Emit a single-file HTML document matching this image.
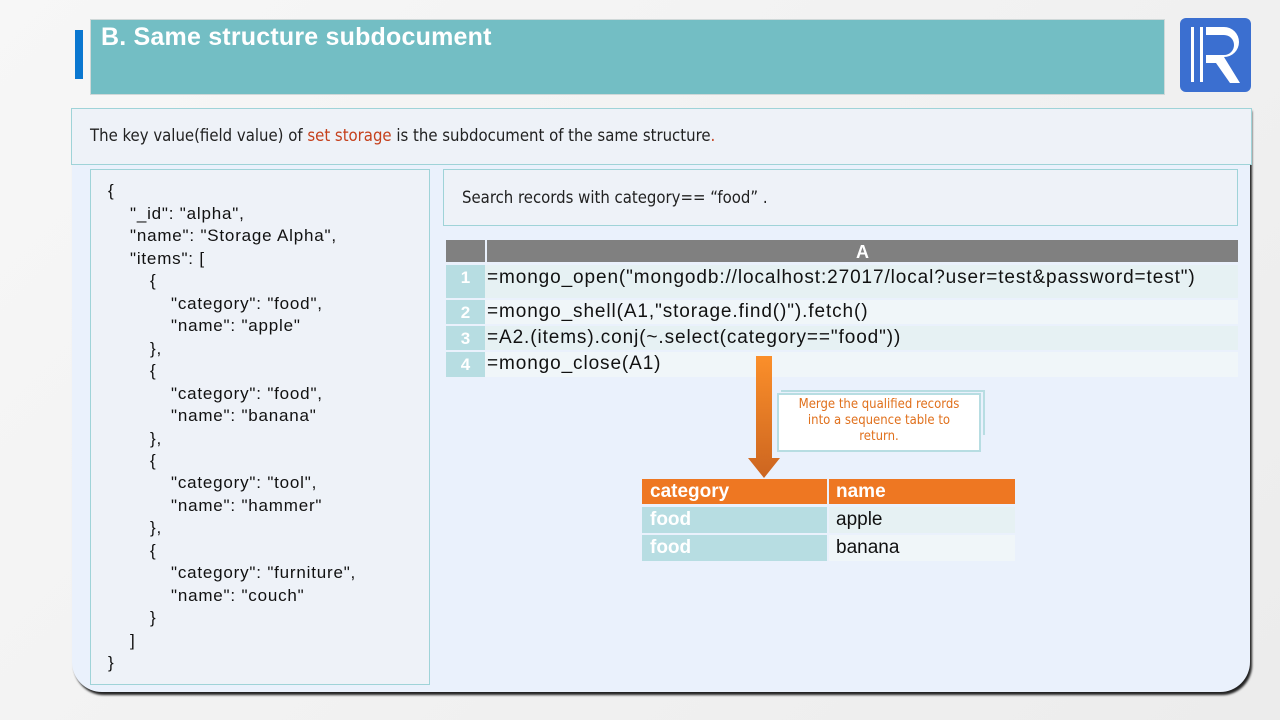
<!DOCTYPE html>
<html><head><meta charset="utf-8"><style>
body{margin:0;width:1280px;height:720px;background:linear-gradient(135deg,#f7f7f7,#ececec);position:relative;overflow:hidden;font-family:"Liberation Sans",Arial,sans-serif}
.a{position:absolute}
.code div{position:absolute;font-size:17px;letter-spacing:0.8px;color:#111;white-space:pre}
.tr{position:absolute;left:446px;width:792px;}
.idx{position:absolute;left:0;width:39px;top:0;bottom:0;background:#b7dde2;color:#fff;font-weight:bold;font-size:17px;text-align:center}
.cell{position:absolute;left:41px;font-size:19px;letter-spacing:0.9px;color:#111;white-space:nowrap}
</style></head><body>
<div class="a" style="left:75px;top:30px;width:8px;height:49px;background:#0a77d0"></div>
<div class="a" style="left:90px;top:19px;width:1073px;height:74px;background:#73bec4;border:1px solid #cfd8d8"></div>
<div class="a" style="left:101px;top:23px;font-size:25px;font-weight:bold;color:#fff;letter-spacing:0.2px">B. Same structure subdocument</div>
<div class="a" style="left:1180px;top:18px;width:71px;height:74px;background:#3b6fd0;border-radius:6px"></div>
<div class="a" style="left:1191px;top:27px;width:3px;height:55px;background:#fff"></div>
<div class="a" style="left:1200px;top:27px;width:3px;height:55px;background:#fff"></div>
<svg class="a" style="left:1206px;top:27px" width="40" height="56"><path d="M0 0H18A15 15 0 0 1 18 30L34 56H24L10 36H0V28H18A7 7 0 0 0 18 8H0Z" fill="#fff"/></svg>

<div class="a" style="left:72px;top:108px;width:1178px;height:584px;background:#eaf1fc;border-radius:0 0 30px 30px;box-shadow:2px 3px 2px #222"></div>
<div class="a" style="left:71px;top:108px;width:1179px;height:55px;background:#eef2f8;border:1px solid #9fd3d8"></div>
<div class="a" style="left:90px;top:126px;font-size:16.6px;color:#222;font-family:'DejaVu Sans Condensed','Liberation Sans',sans-serif">The key value(field value) of <span style="color:#c5401c">set storage</span> is the subdocument of the same structure<span style="color:#c5401c">.</span></div>

<div class="a" style="left:90px;top:169px;width:338px;height:514px;background:#eef2f8;border:1px solid #9fd3d8"></div>
<div class="code">
<div style="left:108px;top:181px">{</div>
<div style="left:130px;top:204px">"_id": "alpha",</div>
<div style="left:130px;top:226px">"name": "Storage Alpha",</div>
<div style="left:130px;top:249px">"items": [</div>
<div style="left:150px;top:271px">{</div>
<div style="left:171px;top:294px">"category": "food",</div>
<div style="left:171px;top:316px">"name": "apple"</div>
<div style="left:150px;top:339px">},</div>
<div style="left:150px;top:361px">{</div>
<div style="left:171px;top:384px">"category": "food",</div>
<div style="left:171px;top:406px">"name": "banana"</div>
<div style="left:150px;top:429px">},</div>
<div style="left:150px;top:451px">{</div>
<div style="left:171px;top:473px">"category": "tool",</div>
<div style="left:171px;top:496px">"name": "hammer"</div>
<div style="left:150px;top:518px">},</div>
<div style="left:150px;top:541px">{</div>
<div style="left:171px;top:563px">"category": "furniture",</div>
<div style="left:171px;top:586px">"name": "couch"</div>
<div style="left:150px;top:608px">}</div>
<div style="left:130px;top:631px">]</div>
<div style="left:108px;top:653px">}</div>
</div>

<div class="a" style="left:443px;top:169px;width:793px;height:55px;background:#eef2f8;border:1px solid #9fd3d8"></div>
<div class="a" style="left:462px;top:188px;font-size:16.6px;color:#222;font-family:'DejaVu Sans Condensed','Liberation Sans',sans-serif">Search records with category== “food” .</div>

<div class="a" style="left:446px;top:240px;width:39px;height:22px;background:#808080"></div>
<div class="a" style="left:487px;top:240px;width:751px;height:22px;background:#808080;color:#fff;font-weight:bold;font-size:18px;text-align:center;line-height:24px">A</div>
<div class="tr" style="top:265px;height:33px;background:#e6f1f3"><div class="idx" style="line-height:26px">1</div><div class="cell" style="top:2px">=mongo_open("mongodb://localhost:27017/local?user=test&amp;password=test")</div></div>
<div class="tr" style="top:300px;height:24px;background:#f0f6f9"><div class="idx" style="line-height:26px">2</div><div class="cell" style="top:1px">=mongo_shell(A1,"storage.find()").fetch()</div></div>
<div class="tr" style="top:326px;height:24px;background:#e6f1f3"><div class="idx" style="line-height:26px">3</div><div class="cell" style="top:1px">=A2.(items).conj(~.select(category=="food"))</div></div>
<div class="tr" style="top:352px;height:25px;background:#f0f6f9"><div class="idx" style="line-height:26px">4</div><div class="cell" style="top:1px">=mongo_close(A1)</div></div>

<svg class="a" style="left:746px;top:356px" width="36" height="124"><defs><linearGradient id="g" x1="0" y1="0" x2="0" y2="1"><stop offset="0" stop-color="#fb8f2a"/><stop offset="1" stop-color="#cc6520"/></linearGradient></defs><path d="M10 0H26V102H34L18 122L2 102H10Z" fill="url(#g)"/></svg>
<div class="a" style="left:781px;top:390px;width:202px;height:43px;border:2px solid #b7dde2;border-left:none;border-bottom:none"></div>
<div class="a" style="left:777px;top:393px;width:200px;height:55px;background:#fff;border:2px solid #b7dde2"></div>
<div class="a" style="left:789px;top:397px;width:180px;text-align:center;font-size:13px;line-height:16px;color:#e0701c;font-family:'DejaVu Sans Condensed','Liberation Sans',sans-serif">Merge the qualified records into a sequence table to return.</div>

<div class="a" style="left:642px;top:479px;width:185px;height:25px;background:#ee7722;color:#fff;font-weight:bold;font-size:19px;line-height:25px;text-indent:8px">category</div>
<div class="a" style="left:829px;top:479px;width:186px;height:25px;background:#ee7722;color:#fff;font-weight:bold;font-size:19px;line-height:25px;text-indent:7px">name</div>
<div class="a" style="left:642px;top:507px;width:185px;height:26px;background:#b7dde2;color:#fff;font-weight:bold;font-size:19px;line-height:26px;text-indent:8px">food</div>
<div class="a" style="left:829px;top:507px;width:186px;height:26px;background:#e6f1f3;color:#111;font-size:19px;line-height:26px;text-indent:7px">apple</div>
<div class="a" style="left:642px;top:535px;width:185px;height:26px;background:#b7dde2;color:#fff;font-weight:bold;font-size:19px;line-height:26px;text-indent:8px">food</div>
<div class="a" style="left:829px;top:535px;width:186px;height:26px;background:#f0f6f9;color:#111;font-size:19px;line-height:26px;text-indent:7px">banana</div>
</body></html>
